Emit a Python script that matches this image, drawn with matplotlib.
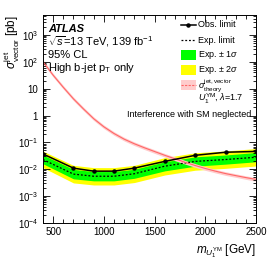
import matplotlib
matplotlib.use('Agg')
from matplotlib import pyplot as plt
from matplotlib.patches import Rectangle
from matplotlib.ticker import FixedLocator, MultipleLocator, LogLocator, NullFormatter, FuncFormatter
import numpy as np

plt.rcParams['font.family'] = ['Liberation Sans', 'DejaVu Sans']
plt.rcParams['mathtext.fontset'] = 'custom'
plt.rcParams['mathtext.rm'] = 'Liberation Sans'
plt.rcParams['mathtext.it'] = 'Liberation Sans:italic'
plt.rcParams['mathtext.sf'] = 'Liberation Sans'

# limit points
mass = [400, 700, 900, 1100, 1300, 1600, 1900, 2200, 2500]
obs = [0.037, 0.011, 0.0085, 0.0085, 0.011, 0.0196, 0.033, 0.043, 0.046]
exp = [0.023, 0.0066, 0.0055, 0.0055, 0.0068, 0.013, 0.0196, 0.023, 0.028]
exp_1s_up = [0.034, 0.0099, 0.0082, 0.0082, 0.010, 0.019, 0.029, 0.034, 0.042]
exp_1s_dn = [0.016, 0.0044, 0.0037, 0.0037, 0.0046, 0.0087, 0.013, 0.0155, 0.019]
exp_2s_up = [0.047, 0.014, 0.0115, 0.0115, 0.014, 0.027, 0.041, 0.048, 0.059]
exp_2s_dn = [0.0115, 0.0031, 0.0026, 0.0026, 0.0032, 0.0061, 0.0092, 0.0108, 0.0132]

# theory curve
mass_th = [400, 500, 600, 700, 800, 900, 1000, 1100, 1200, 1300, 1400,
           1500, 1600, 1700, 1800, 1900, 2000, 2100, 2200, 2300, 2400, 2500]
theory = [100, 31.6, 11.2, 4.17, 1.74, 0.76, 0.38, 0.214, 0.132, 0.089, 0.063,
          0.0457, 0.0331, 0.0245, 0.0182, 0.0138, 0.0107, 0.0085, 0.0069, 0.0058, 0.0049, 0.0042]
theory_up = [117, 37, 13.1, 4.9, 2.04, 0.89, 0.445, 0.25, 0.155, 0.104, 0.074,
             0.0535, 0.0388, 0.0287, 0.0213, 0.0162, 0.0125, 0.0099, 0.0081, 0.0068, 0.0057, 0.0049]
theory_dn = [85, 27, 9.6, 3.56, 1.49, 0.65, 0.325, 0.183, 0.113, 0.076, 0.054,
             0.039, 0.0283, 0.0209, 0.0156, 0.0118, 0.0091, 0.0073, 0.0059, 0.005, 0.0042, 0.0036]

ytick_vals = [1e-4, 1e-3, 1e-2, 1e-1, 1, 10, 1e2, 1e3]
xtick_vals = [500, 1000, 1500, 2000, 2500]

GREEN = '#00ff00'
YELLOW = '#ffff00'
PINK = '#ffcccc'
RED = '#ff6666'

fig = plt.figure(figsize=(2.74, 2.66), dpi=100)
ax = fig.add_axes([43/274, 1-223/266, (256-43)/274, (223-15)/266])

ax.fill_between(mass, exp_2s_dn, exp_2s_up, color=YELLOW, lw=0)
ax.fill_between(mass, exp_1s_dn, exp_1s_up, color=GREEN, lw=0)
ax.plot(mass, exp, color='black', ls=(0, (1.5, 1.5)), lw=0.9)
ax.fill_between(mass_th, theory_dn, theory_up, color=PINK, lw=0)
ax.plot(mass_th, theory, color=RED, ls='-', lw=0.8)
ax.plot(mass, obs, color='black', lw=1.1, marker='o', ms=2.2)

ax.set_yscale('log')
ax.set_xlim(400, 2500)
ax.set_ylim(1e-4, 5.5e3)

def yfmt(v, pos):
    e = int(round(np.log10(v)))
    if e == 0:
        return '1'
    if e == 1:
        return '10'
    return r'$10^{%d}$' % e

ax.yaxis.set_major_locator(FixedLocator(ytick_vals))
ax.yaxis.set_major_formatter(FuncFormatter(yfmt))
ax.yaxis.set_minor_locator(LogLocator(base=10, subs=np.arange(2, 10), numticks=20))
ax.yaxis.set_minor_formatter(NullFormatter())
ax.xaxis.set_major_locator(FixedLocator(xtick_vals))
ax.xaxis.set_minor_locator(MultipleLocator(100))
ax.tick_params(which='both', direction='in', top=True, right=True, labelsize=7, width=0.6)
ax.tick_params(which='major', length=5)
ax.tick_params(which='minor', length=2.5)
ax.tick_params(axis='x', which='major', pad=3)
ax.tick_params(axis='x', which='minor', length=3)
for s in ax.spines.values():
    s.set_linewidth(0.7)

ax.set_ylabel(r'$\sigma^{\rm jet}_{\rm vector}$ [pb]', fontsize=8.5, loc='top')
ax.yaxis.set_label_coords(-0.1, 1.0)
ax.set_xlabel(r'$m_{U_1^{\rm YM}}$ [GeV]', fontsize=8.5, loc='right', labelpad=4)

ax.text(0.025, 0.935, 'ATLAS', transform=ax.transAxes, fontsize=8, fontweight='bold',
        fontstyle='italic', va='center')
ax.text(0.025, 0.87, r'$\sqrt{s}$=13 TeV, 139 fb$^{-1}$', transform=ax.transAxes, fontsize=8, va='center')
ax.text(0.025, 0.808, '95% CL', transform=ax.transAxes, fontsize=8, va='center')
ax.text(0.025, 0.745, r'High b-jet p$_{\rm T}$ only', transform=ax.transAxes, fontsize=8, va='center')
ax.text(0.98, 0.524, 'Interference with SM neglected', transform=ax.transAxes, fontsize=6.5,
        ha='right', va='center')

# legend, drawn by hand in axes coordinates
hx0, hx1, tx = 0.648, 0.718, 0.73
rows = [0.952, 0.878, 0.808, 0.736, 0.663, 0.596]
bh = 0.05
t = ax.transAxes
ax.plot([hx0, hx1], [rows[0], rows[0]], color='black', lw=1.1, transform=t, clip_on=False)
ax.plot([(hx0+hx1)/2], [rows[0]], color='black', marker='o', ms=2.2, transform=t, clip_on=False)
ax.plot([hx0, hx1], [rows[1], rows[1]], color='black', ls=(0, (1.5, 1.5)), lw=0.9, transform=t, clip_on=False)
ax.add_patch(Rectangle((hx0, rows[2]-bh/2), hx1-hx0, bh, facecolor=GREEN, edgecolor='none', transform=t))
ax.add_patch(Rectangle((hx0, rows[3]-bh/2), hx1-hx0, bh, facecolor=YELLOW, edgecolor='none', transform=t))
ax.add_patch(Rectangle((hx0, rows[4]-bh/2), hx1-hx0, bh, facecolor=PINK, edgecolor='none', transform=t))
ax.plot([hx0, hx1], [rows[4], rows[4]], color=RED, ls=(0, (2, 1.2)), lw=0.8, transform=t, clip_on=False)

labels = ['Obs. limit', 'Exp. limit', r'Exp. $\pm$ 1$\sigma$', r'Exp. $\pm$ 2$\sigma$',
          r'$\sigma^{\rm jet, vector}_{\rm theory}$', r'$U_1^{\rm YM}$, $\lambda$=1.7']
for lab, yy in zip(labels, rows):
    ax.text(tx, yy, lab, transform=t, fontsize=6.5, va='center')

fig.savefig('out.png', dpi=100)
